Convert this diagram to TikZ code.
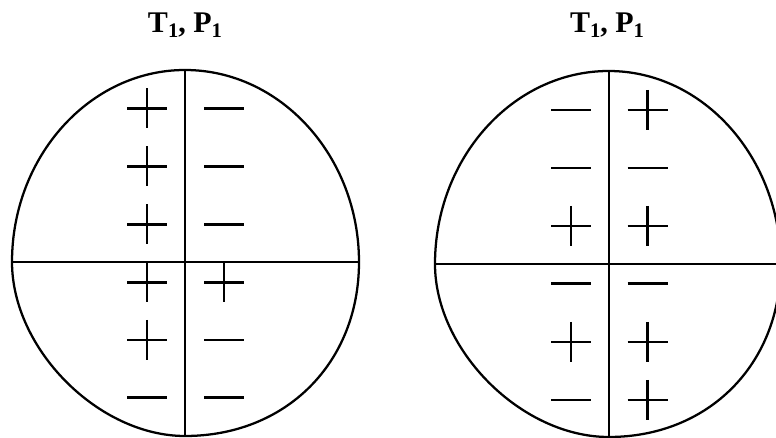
\documentclass[tikz,border=0pt]{standalone}
\usepackage{fontspec}
\setmainfont{Liberation Serif}
\newcommand{\subone}{\raisebox{-0.16em}{\fontsize{15.5}{15.5}\selectfont 1}}
\begin{document}
\begin{tikzpicture}[x=0.75pt,y=-0.75pt,
  egg/.style={line width=1.7pt},
  axis/.style={line width=1.8pt},
  signline/.style={line width=2.1pt},
  title/.style={anchor=base,inner sep=0pt,font=\fontsize{22.5}{22.5}\selectfont\bfseries},
  plus/.pic={\draw[signline] (-20,0) -- (20,0); \draw[signline] (0,-20) -- (0,20);},
  minus/.pic={\draw[signline] (-20,0) -- (20,0);}]
\useasboundingbox (0,0) rectangle (776,438);
\begin{scope}
\clip (0,0) rectangle (776,438);
% titles
\node[title] (tl) at (185,33) {T\subone, P\subone};
\node[title] (tr) at (607,33) {T\subone, P\subone};
% left egg
\draw[egg] (12,262) .. controls (12,156.4) and (89.85,70) .. (185,70)
  .. controls (280.7,70) and (359,156.4) .. (359,262)
  .. controls (359,362.9) and (285.9,436) .. (185,436)
  .. controls (98.5,436) and (12,349) .. cycle;
\coordinate (lt) at (185,70);
\coordinate (lb) at (185,436);
\coordinate (ll) at (12,262);
\coordinate (lr) at (359,262);
\draw[axis] (lt) -- (lb);
\draw[axis] (ll) -- (lr);
% right egg
\draw[egg] (435,264) .. controls (435,157.8) and (513.2,71) .. (608.7,71)
  .. controls (703.3,71) and (780.7,157.8) .. (780.7,264)
  .. controls (780.7,364.3) and (708.5,437) .. (608.7,437)
  .. controls (521.8,437) and (435,350.5) .. cycle;
\coordinate (rt) at (608.7,71);
\coordinate (rb) at (608.7,437);
\coordinate (rl) at (435,264);
\coordinate (rr) at (780.7,264);
\draw[axis] (rt) -- (rb);
\draw[axis] (rl) -- (rr);
% left markers
\pic at (147,108.5) {plus};
\pic at (147,166.5) {plus};
\pic at (147,224.5) {plus};
\pic at (147,282.5) {plus};
\pic at (147,340) {plus};
\pic at (147,397.5) {minus};
\pic at (224,108.5) {minus};
\pic at (224,166.5) {minus};
\pic at (224,224.5) {minus};
\pic at (224,282.5) {plus};
\pic at (224,340) {minus};
\pic at (224,397.5) {minus};
% right markers
\pic at (571,110) {minus};
\pic at (571,168) {minus};
\pic at (571,226) {plus};
\pic at (571,283.5) {minus};
\pic at (571,342) {plus};
\pic at (571,400) {minus};
\pic at (647.5,110) {plus};
\pic at (647.5,168) {minus};
\pic at (647.5,226) {plus};
\pic at (647.5,283.5) {minus};
\pic at (647.5,342) {plus};
\pic at (647.5,400) {plus};
\end{scope}
\end{tikzpicture}
\end{document}
